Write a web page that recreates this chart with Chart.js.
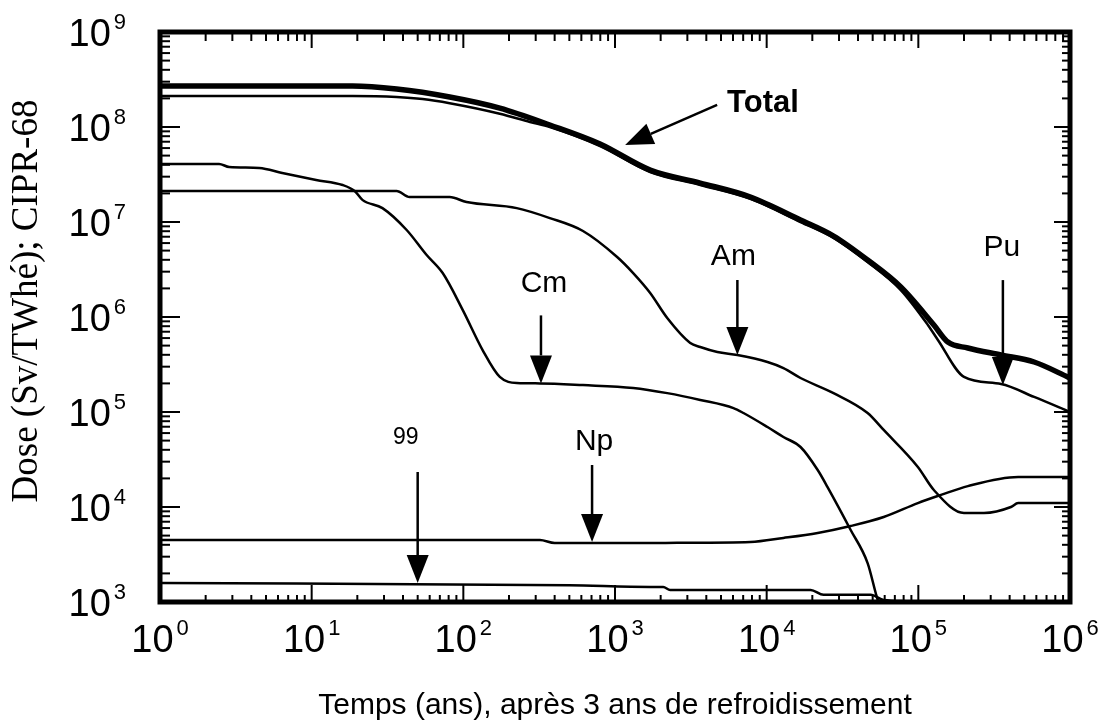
<!DOCTYPE html>
<html><head><meta charset="utf-8">
<script src="https://cdn.jsdelivr.net/npm/chart.js@4.4.1/dist/chart.umd.min.js"></script>
<style>html,body{margin:0;padding:0;background:#fff;}canvas{display:block;}</style>
</head><body>
<canvas id="c" width="1106" height="726"></canvas>
<script>
// ---- data (time in years, dose in Sv/TWhe) ----
const totalTime = [1, 18.6, 36.3, 81.3, 174, 372, 797, 1706, 3650, 7815, 16720, 27600, 46300, 76600, 126600, 156600, 212000, 351000, 580000, 1000000];
const totalDose = [2.70e8, 2.70e8, 2.51e8, 2.07e8, 1.58e8, 1.05e8, 6.62e7, 3.52e7, 2.57e7, 1.83e7, 1.05e7, 7.12e6, 3.98e6, 2.07e6, 8.24e5, 5.45e5, 4.72e5, 3.98e5, 3.36e5, 2.28e5];

const puTime = [1, 18.6, 36.3, 53.9, 81.3, 174, 275, 372, 797, 1706, 3650, 7815, 16720, 27600, 46300, 76600, 115600, 134600, 200000, 351000, 580000, 1000000];
const puDose = [2.12e8, 2.12e8, 2.07e8, 1.97e8, 1.78e8, 1.38e8, 1.13e8, 1.0e8, 6.31e7, 3.36e7, 2.45e7, 1.75e7, 1.0e7, 6.79e6, 3.79e6, 1.92e6, 8.24e5, 5.73e5, 2.34e5, 1.97e5, 1.44e5, 1.0e5];

const amTime = [1, 36.3, 44.2, 81.3, 105, 225, 372, 615, 1033, 1318, 1706, 2210, 3135, 3650, 4730, 6410, 10120, 12900, 16720, 27600, 46300, 59100, 99300, 126600, 200000, 271000, 408000, 455000, 1000000];
const amDose = [2.12e7, 2.12e7, 1.83e7, 1.83e7, 1.62e7, 1.40e7, 1.10e7, 8.04e6, 4.28e6, 2.90e6, 1.79e6, 9.76e5, 5.33e5, 4.83e5, 4.28e5, 3.98e5, 3.36e5, 2.90e5, 2.28e5, 1.58e5, 9.76e4, 6.47e4, 2.64e4, 1.51e4, 8.65e3, 8.65e3, 1.0e4, 1.10e4, 1.10e4];

const cmTime = [1, 2.45, 2.86, 4.51, 6.4, 10.7, 16.0, 19.2, 21.6, 29.3, 42.3, 57.3, 73.1, 99, 134, 174, 225, 320, 615, 1318, 2210, 3650, 6040, 7030, 10120, 12900, 16720, 21700, 25200, 35800, 46300, 54000, 58000];
const cmDose = [4.08e7, 4.08e7, 3.79e7, 3.70e7, 3.28e7, 2.77e7, 2.45e7, 2.12e7, 1.71e7, 1.40e7, 8.24e6, 4.49e6, 2.90e6, 1.19e6, 4.49e5, 2.34e5, 2.02e5, 2.0e5, 1.92e5, 1.79e5, 1.58e5, 1.34e5, 1.10e5, 9.76e4, 6.95e4, 5.46e4, 4.28e4, 2.45e4, 1.62e4, 5.73e3, 2.57e3, 1.05e3, 8.0e2];

const npTime = [1, 320, 400, 1706, 2570, 7815, 12900, 21700, 35800, 59100, 99300, 141000, 212000, 455000, 1000000];
const npDose = [4.49e3, 4.49e3, 4.18e3, 4.18e3, 4.20e3, 4.28e3, 4.72e3, 5.33e3, 6.31e3, 7.85e3, 1.10e4, 1.34e4, 1.66e4, 2.07e4, 2.07e4];

const tc99Time = [1, 500, 1706, 2080, 2310, 19500, 23700, 48500, 59100, 99300, 120000];
const tc99Dose = [1.585e3, 1.50e3, 1.44e3, 1.44e3, 1.34e3, 1.34e3, 1.19e3, 1.19e3, 1.05e3, 1.0e3, 9.0e2];

const xTickExponents = [0, 1, 2, 3, 4, 5, 6];
const yTickExponents = [3, 4, 5, 6, 7, 8, 9];
const yTitleText = 'Dose (Sv/TWhé); CIPR-68';

// arrow annotations: label text and the data point each arrow points at
const arrowLabels = ['Total', 'Am', 'Cm', 'Pu', 'Np', '99'];
const arrowTipTime = [1166, 6410, 325, 361000, 706, 50];
const arrowTipDose = [6.47e7, 3.98e5, 2.0e5, 1.92e5, 4.28e3, 1.585e3];

// ---- styling for annotations (pixel offsets from the tip) ----
const arrowStyle = {
  Total: {tailDx: 92, tailDy: -40, labelDx: 102, labelDy: -42, align: 'left', font: 'bold 31px "Liberation Sans"'},
  Am:    {tailDx: 0, tailDy: -75, labelDx: -4, labelDy: -98, align: 'center', font: '30px "Liberation Sans"'},
  Cm:    {tailDx: 0, tailDy: -68, labelDx: 3, labelDy: -100, align: 'center', font: '30px "Liberation Sans"'},
  Pu:    {tailDx: 0, tailDy: -105, labelDx: -1, labelDy: -137, align: 'center', font: '30px "Liberation Sans"'},
  Np:    {tailDx: 0, tailDy: -77, labelDx: 2, labelDy: -100, align: 'center', font: '30px "Liberation Sans"'},
  '99':  {tailDx: 0, tailDy: -111, labelDx: -12, labelDy: -145, align: 'center', font: '23px "Liberation Sans"'}
};

function pts(t, v) { return t.map((x, i) => ({x: x, y: v[i]})); }

const frameAndTicks = {
  id: 'frameAndTicks',
  afterDatasetsDraw(chart) {
    const {ctx, chartArea: a, scales: {x, y}} = chart;
    ctx.save();
    ctx.strokeStyle = '#000';
    ctx.lineCap = 'butt';
    const seg = (x1, y1, x2, y2, w) => { ctx.lineWidth = w; ctx.beginPath(); ctx.moveTo(x1, y1); ctx.lineTo(x2, y2); ctx.stroke(); };
    for (let k = 0; k <= 6; k++) {
      for (let m = 1; m <= 9; m++) {
        const v = m * Math.pow(10, k);
        if (v > 1e6) break;
        const px = x.getPixelForValue(v);
        const major = m === 1;
        seg(px, a.bottom, px, a.bottom - (major ? 17 : 7), 2);
        seg(px, a.top, px, a.top + (major ? 16 : 9), 2);
      }
    }
    for (let k = 3; k <= 9; k++) {
      for (let m = 1; m <= 9; m++) {
        const v = m * Math.pow(10, k);
        if (v > 1e9) break;
        const py = y.getPixelForValue(v);
        const major = m === 1;
        seg(a.left, py, a.left + (major ? 20 : 10), py, 2);
        seg(a.right, py, a.right - (major ? 16 : 8), py, 2);
      }
    }
    ctx.lineWidth = 5;
    ctx.strokeRect(a.left, a.top, a.right - a.left, a.bottom - a.top);
    ctx.restore();
  },
  afterDraw(chart) {
    const {ctx, chartArea: a, scales: {x, y}} = chart;
    ctx.save();
    ctx.fillStyle = '#000';
    ctx.textBaseline = 'alphabetic';
    const bigFont = '38px "Liberation Sans"';
    const supFont = '22px "Liberation Sans"';
    xTickExponents.forEach(k => {
      const px = x.getPixelForValue(Math.pow(10, k));
      ctx.font = bigFont; const w1 = ctx.measureText('10').width;
      ctx.font = supFont; const w2 = ctx.measureText(String(k)).width;
      const start = px - (w1 + 3 + w2) / 2;
      const base = 652;
      ctx.font = bigFont; ctx.textAlign = 'left'; ctx.fillText('10', start, base);
      ctx.font = supFont; ctx.fillText(String(k), start + w1 + 3, base - 17);
    });
    yTickExponents.forEach(k => {
      const py = y.getPixelForValue(Math.pow(10, k));
      ctx.font = bigFont; const w1 = ctx.measureText('10').width;
      ctx.font = supFont; const w2 = ctx.measureText(String(k)).width;
      const end = a.left - 34;
      const start = end - (w1 + 3 + w2);
      const base = py + 14;
      ctx.font = bigFont; ctx.textAlign = 'left'; ctx.fillText('10', start, base);
      ctx.font = supFont; ctx.fillText(String(k), start + w1 + 3, base - 17);
    });
    // y axis title
    ctx.save();
    ctx.translate(27, (a.top + a.bottom) / 2 - 16);
    ctx.rotate(-Math.PI / 2);
    ctx.font = '37px "Liberation Serif"';
    ctx.textAlign = 'center';
    ctx.textBaseline = 'middle';
    ctx.fillText(yTitleText, 0, 0);
    ctx.restore();
    // arrows with labels
    arrowLabels.forEach((lab, i) => {
      const s = arrowStyle[lab];
      const tx = x.getPixelForValue(arrowTipTime[i]);
      const ty = y.getPixelForValue(arrowTipDose[i]);
      const sx = tx + s.tailDx, sy = ty + s.tailDy;
      const ang = Math.atan2(ty - sy, tx - sx);
      const hl = 28, hw = 11;
      const bx = tx - hl * Math.cos(ang), by = ty - hl * Math.sin(ang);
      ctx.strokeStyle = '#000'; ctx.lineWidth = 2.5;
      ctx.beginPath(); ctx.moveTo(sx, sy); ctx.lineTo(bx, by); ctx.stroke();
      ctx.beginPath();
      ctx.moveTo(tx, ty);
      ctx.lineTo(bx + hw * Math.sin(ang), by - hw * Math.cos(ang));
      ctx.lineTo(bx - hw * Math.sin(ang), by + hw * Math.cos(ang));
      ctx.closePath(); ctx.fill();
      ctx.font = s.font;
      ctx.textAlign = s.align;
      ctx.textBaseline = 'middle';
      ctx.fillText(lab, tx + s.labelDx, ty + s.labelDy);
      ctx.textBaseline = 'alphabetic';
    });
    ctx.restore();
  }
};

const lineDs = (label, t, v, w) => ({
  label: label, data: pts(t, v), showLine: true, borderColor: '#000', backgroundColor: '#000',
  borderWidth: w, pointRadius: 0, pointHoverRadius: 0, fill: false, tension: 0, cubicInterpolationMode: 'monotone'
});

new Chart(document.getElementById('c'), {
  type: 'scatter',
  data: {
    datasets: [
      lineDs('Total', totalTime, totalDose, 5.5),
      lineDs('Pu', puTime, puDose, 2.5),
      lineDs('Am', amTime, amDose, 2.5),
      lineDs('Cm', cmTime, cmDose, 2.5),
      lineDs('Np', npTime, npDose, 2.5),
      lineDs('99', tc99Time, tc99Dose, 2.5)
    ]
  },
  options: {
    responsive: false,
    animation: false,
    devicePixelRatio: 1,
    layout: {padding: {left: 0, right: 36, top: 32, bottom: 0}},
    plugins: {legend: {display: false}, tooltip: {enabled: false}, title: {display: false}},
    scales: {
      x: {
        type: 'logarithmic', min: 1, max: 1e6,
        grid: {display: false}, border: {display: false},
        ticks: {display: false},
        title: {display: true, text: 'Temps (ans), après 3 ans de refroidissement', color: '#000',
                font: {family: 'Liberation Sans', size: 30}, padding: {top: 0, bottom: 2}},
        afterFit: s => { s.height = 124; }
      },
      y: {
        type: 'logarithmic', min: 1e3, max: 1e9,
        grid: {display: false}, border: {display: false},
        ticks: {display: false},
        afterFit: s => { s.width = 160; }
      }
    }
  },
  plugins: [frameAndTicks]
});
</script>
</body></html>
